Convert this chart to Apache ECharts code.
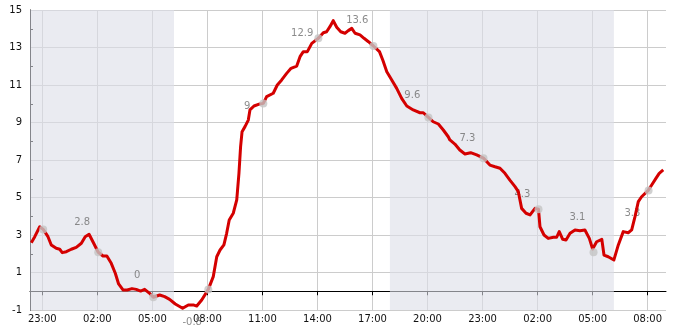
<!DOCTYPE html>
<html><head><meta charset="utf-8">
<script src="https://cdn.jsdelivr.net/npm/echarts@6/dist/echarts.min.js"></script>
<style>html,body{margin:0;padding:0;background:#fff}#c{width:685px;height:330px}</style>
</head><body><div id="c"></div>
<script>
// hours counted from midnight of day 1 (23 = 23:00 day 1, 32 = 08:00 day 2, ...)
const lineHours = [22.40,22.59,22.86,23.05,23.31,23.49,23.76,23.95,24.09,24.31,24.58,24.85,25.13,25.34,25.55,25.76,26.05,26.31,26.52,26.76,26.98,27.16,27.40,27.63,27.89,28.12,28.36,28.58,28.85,29.05,29.40,29.67,29.94,30.25,30.65,30.96,31.23,31.42,31.69,32.05,32.32,32.51,32.69,32.90,33.05,33.19,33.41,33.60,33.72,33.81,33.89,34.05,34.23,34.32,34.54,34.86,35.05,35.23,35.59,35.81,36.05,36.32,36.56,36.87,37.05,37.23,37.45,37.69,38.05,38.32,38.50,38.68,38.86,39.05,39.27,39.50,39.68,39.87,40.05,40.32,40.54,40.78,41.05,41.38,41.56,41.78,42.05,42.32,42.59,42.87,43.22,43.59,43.77,44.05,44.31,44.59,44.86,45.13,45.22,45.49,45.76,46.04,46.35,46.68,47.05,47.40,47.68,47.95,48.22,48.49,48.77,48.95,49.13,49.37,49.59,49.86,50.05,50.13,50.35,50.58,50.86,51.04,51.18,51.37,51.55,51.77,52.04,52.31,52.58,52.82,53.00,53.22,53.50,53.62,53.85,54.16,54.40,54.67,54.94,55.13,55.31,55.49,55.67,56.03,56.22,56.45,56.63,56.85];
const lineValues = [2.59,2.91,3.44,3.30,2.91,2.47,2.29,2.24,2.06,2.11,2.24,2.34,2.56,2.91,3.04,2.64,2.08,1.88,1.88,1.49,0.96,0.39,0.07,0.07,0.14,0.10,0.01,0.10,-0.11,-0.32,-0.20,-0.29,-0.43,-0.68,-0.91,-0.73,-0.73,-0.79,-0.47,0.10,0.78,1.84,2.20,2.47,3.09,3.80,4.16,4.87,6.29,7.71,8.51,8.78,9.13,9.67,9.88,9.99,10.02,10.38,10.56,11.00,11.27,11.62,11.89,12.01,12.51,12.78,12.78,13.22,13.49,13.79,13.84,14.11,14.43,14.08,13.84,13.76,13.90,14.02,13.76,13.67,13.49,13.31,13.08,12.78,12.33,11.71,11.27,10.82,10.29,9.88,9.67,9.52,9.52,9.27,9.04,8.92,8.60,8.24,8.07,7.85,7.53,7.32,7.39,7.27,7.10,6.73,6.64,6.56,6.29,5.93,5.58,5.31,4.42,4.16,4.07,4.42,4.37,3.44,3.00,2.82,2.88,2.88,3.18,2.77,2.73,3.09,3.27,3.23,3.27,2.82,2.25,2.64,2.77,1.93,1.84,1.67,2.47,3.18,3.12,3.27,3.98,4.78,5.04,5.38,5.67,6.02,6.29,6.47];
const markerHours = [23.05,26.05,29.05,32.05,35.05,38.05,41.05,44.05,47.05,50.05,53.05,56.05];
const markerValues = [3.30,2.08,-0.32,0.10,10.02,13.49,13.08,9.27,7.10,4.37,2.08,5.38];
const labelHours = [25.17,28.17,31.17,34.17,37.17,40.17,43.17,46.17,49.17,52.17,55.17];
const labelValues = [2.8,0,-0.8,9,12.9,13.6,9.6,7.3,4.3,3.1,3.3];
const xTickHours = [23,26,29,32,35,38,41,44,47,50,53,56];
const yLabelValues = [-1,1,3,5,7,9,11,13,15];
const yMinorTicks = [0,2,4,6,8,10,12,14];
const nightStart = [22.33, 41.95];
const nightEnd = [30.18, 54.16];
const xMin = 22.33, xMax = 57, yMin = -1, yMax = 15;

const FONT = 'DejaVu Sans';
const fmtHour = h => String(((h % 24) + 24) % 24).padStart(2, '0') + ':00';

const chart = echarts.init(document.getElementById('c'), null, {renderer: 'canvas'});
chart.setOption({
  animation: false,
  backgroundColor: '#ffffff',
  grid: {left: 30, right: 19, top: 10, bottom: 20, containLabel: false},
  xAxis: {
    type: 'value', min: xMin, max: xMax,
    axisLine: {show: true, lineStyle: {color: '#000', width: 1}},
    axisTick: {show: true, customValues: xTickHours, length: 4, lineStyle: {color: '#000'}},
    axisLabel: {customValues: xTickHours, formatter: fmtHour, color: '#111', fontFamily: FONT, fontSize: 10, margin: 4},
    splitLine: {show: true, lineStyle: {color: '#cccccc', width: 1}}
  },
  yAxis: [{
    type: 'value', min: yMin, max: yMax, interval: 1,
    axisLine: {show: true, lineStyle: {color: '#000', width: 1}},
    axisTick: {show: false},
    axisLabel: {customValues: yLabelValues, color: '#111', fontFamily: FONT, fontSize: 10, margin: 8},
    splitLine: {show: true, lineStyle: {color: ['#cccccc', 'rgba(0,0,0,0)'], width: 1}}
  }, {
    type: 'value', min: yMin, max: yMax, position: 'left', offset: 0,
    axisLine: {show: false},
    axisTick: {show: true, inside: true, length: 3, customValues: yMinorTicks, lineStyle: {color: '#000'}},
    axisLabel: {show: false},
    splitLine: {show: false}
  }],
  series: [
    {
      type: 'line', data: [], z: 1, silent: true,
      markLine: {silent: true, symbol: 'none', z: 1, label: {show: false},
        lineStyle: {color: '#000', width: 1, type: 'solid'},
        data: [{yAxis: 0}]}
    },
    {
      type: 'line', data: [], z: 2, silent: true,
      markArea: {silent: true, z: 2, itemStyle: {color: 'rgba(220,222,232,0.6)'},
        data: nightStart.map((s, i) => [{xAxis: s}, {xAxis: nightEnd[i]}])}
    },
    {
      type: 'scatter', z: 3, silent: true, symbolSize: 1,
      itemStyle: {color: 'rgba(0,0,0,0)'},
      label: {show: true, position: 'inside', color: '#6e6e6e', fontFamily: FONT, fontSize: 10,
        formatter: p => String(p.value[1])},
      data: labelHours.map((h, i) => ({value: [h, labelValues[i]], label: {offset: [0, labelValues[i] < 0 ? 16 : -16]}}))
    },
    {
      type: 'line', z: 4, showSymbol: false, symbol: 'none',
      lineStyle: {color: '#d40000', width: 3, join: 'round'},
      data: lineHours.map((h, i) => [h, lineValues[i]])
    },
    {
      type: 'scatter', z: 5, symbolSize: 8,
      itemStyle: {color: '#c4c4c4'},
      data: markerHours.map((h, i) => [h, markerValues[i]])
    }
  ]
});
</script>
</body></html>
